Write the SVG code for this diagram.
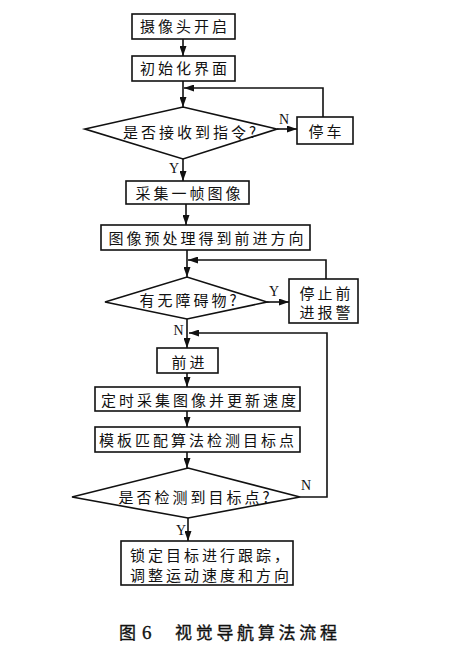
<svg xmlns="http://www.w3.org/2000/svg" width="449" height="657" viewBox="0 0 449 657">
<style>
.box{fill:#fff;stroke:#111;stroke-width:1.6}
.dia{fill:#fff;stroke:#111;stroke-width:1.6}
.t{font-family:"Noto Sans CJK SC","Noto Sans",sans-serif;font-size:15px;fill:#111;letter-spacing:3px;text-anchor:middle}
.tl{font-family:"Noto Sans CJK SC","Noto Sans",sans-serif;font-size:15px;fill:#111;letter-spacing:3px}
.lb{font-family:"Liberation Serif",serif;font-size:14px;fill:#111;text-anchor:middle}
.c{fill:none;stroke:#111;stroke-width:1.6}
.cap{font-family:"Noto Sans CJK SC",sans-serif;font-size:17px;fill:#111;stroke:#111;stroke-width:0.35}
</style>
<defs>
<marker id="arr" markerUnits="userSpaceOnUse" viewBox="0 0 10 7" markerWidth="10" markerHeight="7" refX="10" refY="3.5" orient="auto">
<path d="M0,0 L10,3.5 L0,7 z" fill="#111"/>
</marker>
</defs>
<rect width="449" height="657" fill="#fff"/>
<g id="connectors">
<path class="c" d="M183,39 V56" marker-end="url(#arr)"/>
<path class="c" d="M183,81 V107" marker-end="url(#arr)"/>
<path class="c" d="M323,117 V88 H184" marker-end="url(#arr)"/>
<path class="c" d="M277,129 H297" marker-end="url(#arr)"/>
<path class="c" d="M183,159 V181" marker-end="url(#arr)"/>
<path class="c" d="M186,204 V225" marker-end="url(#arr)"/>
<path class="c" d="M187,250 V277" marker-end="url(#arr)"/>
<path class="c" d="M326,279 V260 H188" marker-end="url(#arr)"/>
<path class="c" d="M267,302 H289" marker-end="url(#arr)"/>
<path class="c" d="M187,319 V348" marker-end="url(#arr)"/>
<path class="c" d="M300,497 H327 V333 H189" marker-end="url(#arr)"/>
<path class="c" d="M187,373 V387" marker-end="url(#arr)"/>
<path class="c" d="M187,411 V427" marker-end="url(#arr)"/>
<path class="c" d="M187,452 V468" marker-end="url(#arr)"/>
<path class="c" d="M188,518 V541" marker-end="url(#arr)"/>
<text class="lb" x="284" y="124">N</text>
<text class="lb" x="174" y="173">Y</text>
<text class="lb" x="274" y="296">Y</text>
<text class="lb" x="178.5" y="335">N</text>
<text class="lb" x="306" y="490">N</text>
<text class="lb" x="181" y="535">Y</text>
</g>
<g id="n1"><rect class="box" x="132" y="14" width="103" height="25"/><text class="t" x="185" y="32">摄像头开启</text></g>
<g id="n2"><rect class="box" x="132" y="56" width="103" height="25"/><text class="t" x="185" y="74">初始化界面</text></g>
<g id="n3"><path class="dia" d="M85,129 L183,107 L277,129 L183,159 Z"/><text class="t" x="191" y="138">是否接收到指令?</text></g>
<g id="n4"><rect class="box" x="297" y="117" width="56" height="27"/><text class="t" x="326.5" y="137">停车</text></g>
<g id="n5"><rect class="box" x="126" y="181" width="123" height="23"/><text class="t" x="189.5" y="198.5">采集一帧图像</text></g>
<g id="n6"><rect class="box" x="101" y="225" width="209" height="25"/><text class="t" x="207.5" y="243.5">图像预处理得到前进方向</text></g>
<g id="n7"><path class="dia" d="M105,302 L187,277 L267,302 L187,319 Z"/><text class="t" x="189.5" y="305.5">有无障碍物?</text></g>
<g id="n8"><rect class="box" x="289" y="279" width="69" height="44"/><text class="t" x="326.5" y="298.5">停止前</text><text class="t" x="326.5" y="317.5">进报警</text></g>
<g id="n9"><rect class="box" x="157" y="348" width="61" height="25"/><text class="t" x="189.5" y="367.5">前进</text></g>
<g id="n10"><rect class="box" x="95" y="387" width="205" height="24"/><text class="t" x="200" y="405.5">定时采集图像并更新速度</text></g>
<g id="n11"><rect class="box" x="95" y="427" width="205" height="25"/><text class="t" x="198" y="445.5">模板匹配算法检测目标点</text></g>
<g id="n12"><path class="dia" d="M72,497 L188,468 L300,497 L188,518 Z"/><text class="t" x="195.5" y="502.5">是否检测到目标点?</text></g>
<g id="n13"><rect class="box" x="121" y="541" width="172" height="44"/><text class="tl" x="130" y="560.5">锁定目标进行跟踪，</text><text class="tl" x="130" y="580.5">调整运动速度和方向</text></g>
<text class="cap" y="638.5"><tspan x="119">图</tspan><tspan x="142" font-family="Liberation Serif,serif" font-size="19">6</tspan><tspan x="175" letter-spacing="3.7">视觉导航算法流程</tspan></text>
</svg>
